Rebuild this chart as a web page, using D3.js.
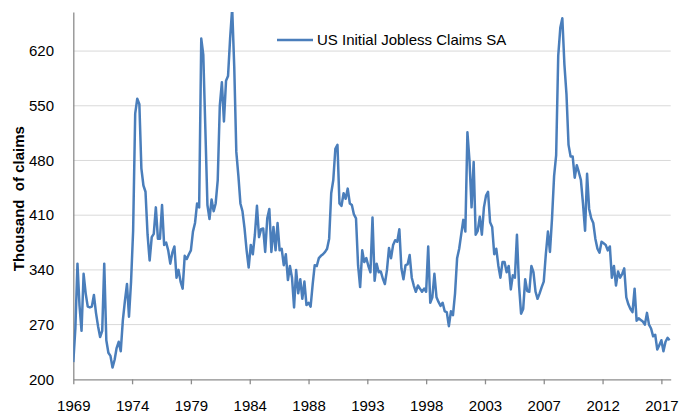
<!DOCTYPE html>
<html>
<head>
<meta charset="utf-8">
<script src="https://cdn.jsdelivr.net/npm/d3@7"></script>
<style>
  body { margin: 0; background: #fff; }
  text { font-family: "Liberation Sans", Arial, sans-serif; fill: #000; }
</style>
</head>
<body>
<svg id="chart" width="683" height="413"></svg>
<script>
// series info
const seriesName = "US Initial Jobless Claims SA";
const axisTitle = "Thousand  of claims";
const startMonth = new Date(1969, 9, 1);
const stepMonths = 2;
const spanMonths = 579;
const xTickEvery = 57;
const xTickLabels = ["1969", "1974", "1979", "1984", "1988", "1993", "1998", "2003", "2007", "2012", "2017"];
const yTicks = [200, 270, 340, 410, 480, 550, 620];
const yMax = 670;

// thousands, one value every 2 months
const claims = [
  222, 265, 348, 295, 262, 335, 310, 293, 292, 293,
  308, 285, 268, 254, 262, 348, 250, 234, 230, 215,
  225, 240, 248, 236, 275, 300, 322, 280, 325, 390,
  540, 559, 552, 470, 448, 440, 385, 352, 382, 386,
  420, 380, 380, 423, 372, 375, 365, 348, 362, 370,
  330, 340, 325, 316, 358, 354, 360, 365, 389, 400,
  425, 420, 636, 615, 520, 423, 405, 430, 415, 425,
  455, 550, 580, 530, 582, 588, 636, 675, 600, 491,
  460, 425, 415, 393, 365, 343, 372, 360, 385, 422,
  382, 392, 393, 363, 406, 418, 363, 395, 365, 400,
  365, 367, 346, 360, 327, 345, 330, 292, 340, 310,
  328, 303, 325, 295, 298, 293, 322, 346, 345, 355,
  358, 360, 363, 367, 380, 438, 455, 495, 500, 425,
  422, 438, 431, 444, 425, 423, 411, 406, 346, 318,
  365, 350, 355, 345, 337, 407, 326, 348, 337, 338,
  329, 322, 340, 368, 355, 372, 378, 376, 392, 342,
  328, 346, 347, 359, 330, 320, 312, 320, 316, 312,
  316, 312, 370, 298, 305, 335, 305, 299, 294, 298,
  287, 286, 268, 287, 282, 310, 355, 367, 386, 404,
  389, 516, 480, 420, 478, 385, 390, 408, 385, 420,
  435, 440, 401, 395, 360, 367, 345, 330, 350, 350,
  337, 345, 315, 333, 330, 385, 320, 284, 290, 328,
  313, 312, 345, 337, 312, 303, 310, 318, 325, 360,
  389, 363, 406, 460, 487, 614, 650, 662, 603, 565,
  500, 485, 485, 458, 474, 465, 455, 425, 390, 463,
  418, 406, 400, 380, 367, 362, 376, 374, 372, 365,
  370, 330, 345, 320, 338, 330, 335, 342, 305, 296,
  290, 286, 316, 275, 278, 276, 274, 270, 285, 270,
  265, 255, 257, 238, 244, 250, 236, 248, 253, 250
];

const svg = d3.select("#chart");
const plotLeft = 73.3, plotRight = 670.7, plotTop = 12, plotBottom = 379.3;

const points = claims.map((v, i) => ({ date: d3.timeMonth.offset(startMonth, i * stepMonths), value: v }));

const x = d3.scaleTime()
  .domain([startMonth, d3.timeMonth.offset(startMonth, spanMonths)])
  .range([plotLeft, plotRight]);

const y = d3.scaleLinear()
  .domain([yTicks[0], yMax])
  .range([plotBottom, plotTop]);

// gridlines
svg.append("g")
  .selectAll("line")
  .data(yTicks.slice(1))
  .enter()
  .append("line")
  .attr("x1", plotLeft)
  .attr("x2", plotRight)
  .attr("y1", d => y(d))
  .attr("y2", d => y(d))
  .attr("stroke", "#d9d9d9")
  .attr("stroke-width", 1);

// y axis
const yAxis = svg.append("g")
  .attr("transform", "translate(" + plotLeft + ",0)")
  .call(d3.axisLeft(y).tickValues(yTicks).tickSize(0).tickSizeOuter(0).tickPadding(19.3));
yAxis.select(".domain").attr("stroke", "#8c8c8c").attr("stroke-width", 1.3);
yAxis.selectAll("text").style("font-size", "15px");

// x axis
const xTickDates = xTickLabels.map((d, i) => d3.timeMonth.offset(startMonth, i * xTickEvery));
const xAxis = svg.append("g")
  .attr("transform", "translate(0," + plotBottom + ")")
  .call(d3.axisBottom(x).tickValues(xTickDates).tickSize(5).tickSizeOuter(0).tickPadding(16)
    .tickFormat((d, i) => xTickLabels[i]));
xAxis.select(".domain").attr("stroke", "#8c8c8c").attr("stroke-width", 1.3);
xAxis.selectAll(".tick line").attr("stroke", "#8c8c8c").attr("stroke-width", 1.3);
xAxis.selectAll("text").style("font-size", "15px");

// clip the line to the plot area
svg.append("clipPath")
  .attr("id", "plotClip")
  .append("rect")
  .attr("x", plotLeft)
  .attr("y", plotTop)
  .attr("width", plotRight - plotLeft)
  .attr("height", plotBottom - plotTop);

const line = d3.line()
  .x(d => x(d.date))
  .y(d => y(d.value));

svg.append("path")
  .datum(points)
  .attr("clip-path", "url(#plotClip)")
  .attr("fill", "none")
  .attr("stroke", "#4a7ebb")
  .attr("stroke-width", 2.5)
  .attr("stroke-linejoin", "round")
  .attr("d", line);

// axis title
svg.append("text")
  .attr("transform", "translate(24," + ((plotTop + plotBottom) / 2 + 3) + ") rotate(-90)")
  .attr("text-anchor", "middle")
  .style("font-size", "15px")
  .style("font-weight", "bold")
  .style("white-space", "pre")
  .text(axisTitle);

// legend
const legend = svg.append("g").attr("transform", "translate(277,40)");
legend.append("line")
  .attr("x1", 0)
  .attr("x2", 36)
  .attr("stroke", "#4a7ebb")
  .attr("stroke-width", 2.5);
legend.append("text")
  .attr("x", 40)
  .attr("y", 5.3)
  .style("font-size", "15px")
  .text(seriesName);
</script>
</body>
</html>
